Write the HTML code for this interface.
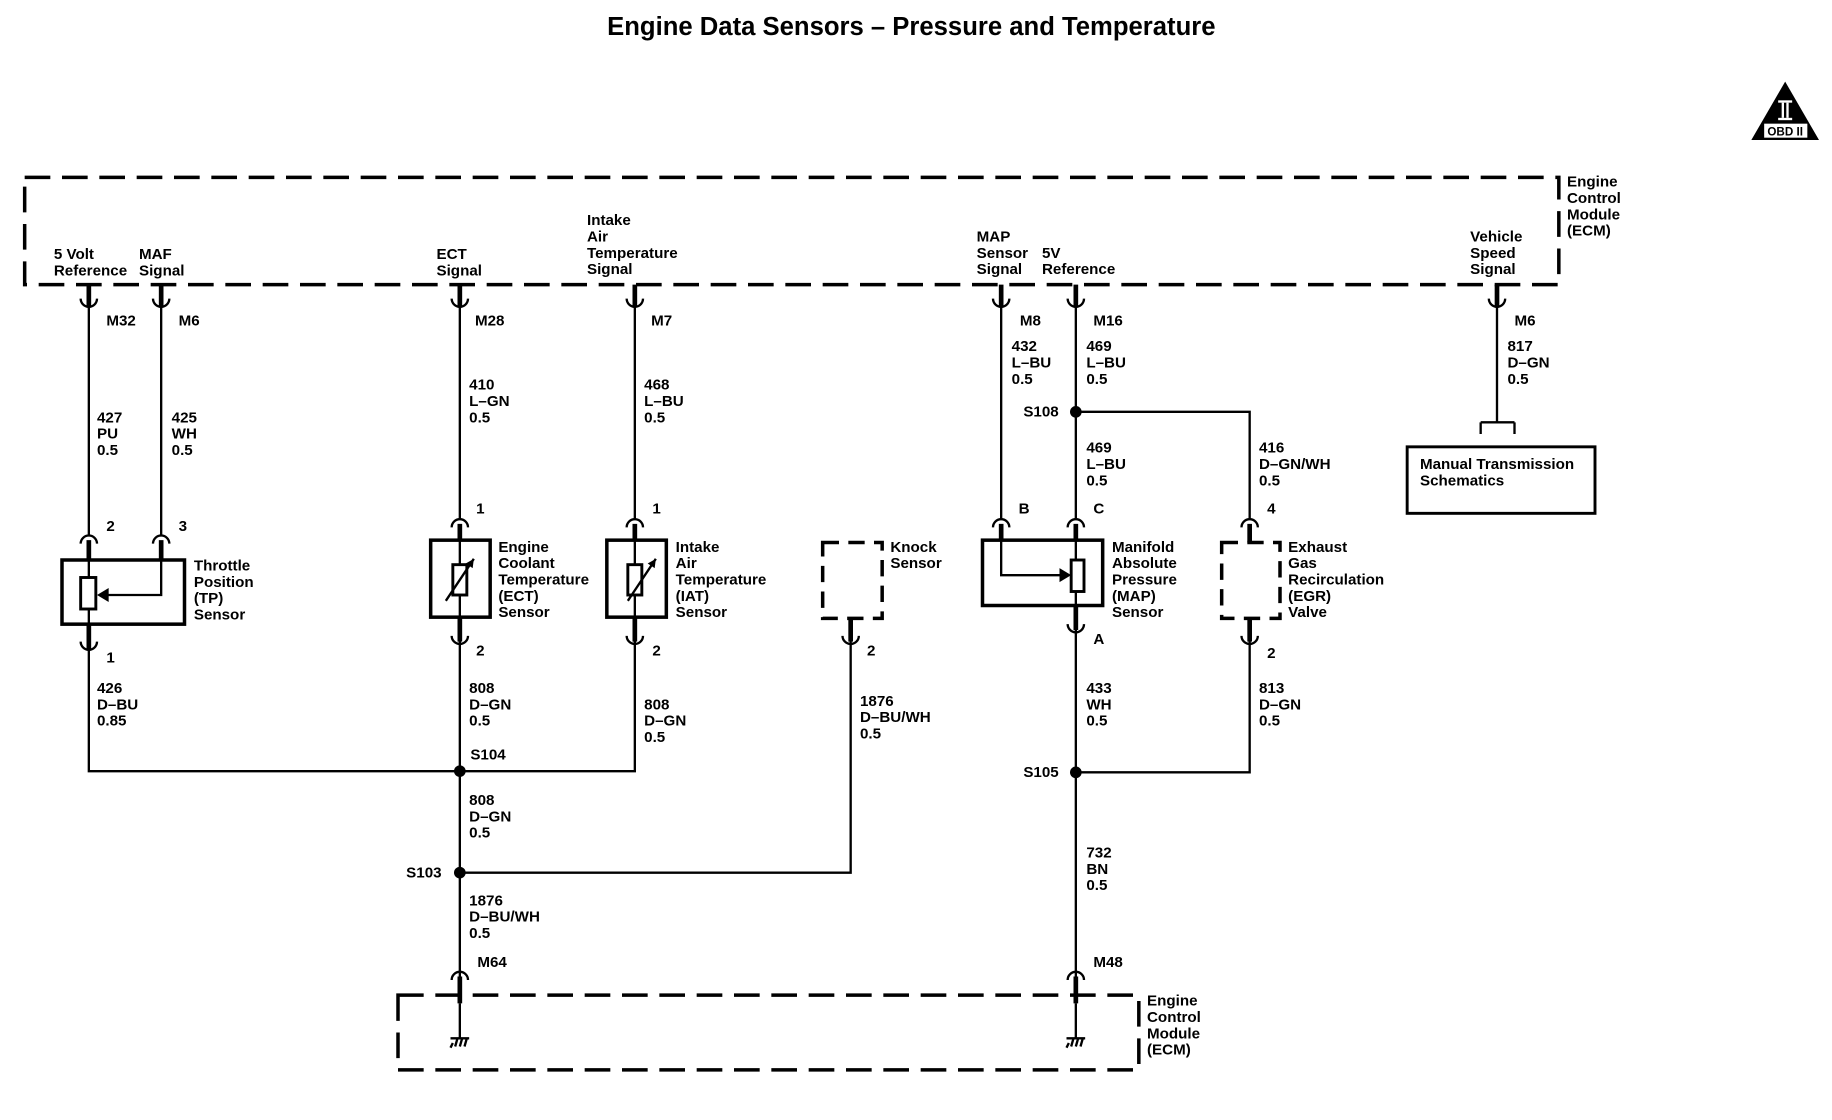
<!DOCTYPE html>
<html><head><meta charset="utf-8"><style>
html,body{margin:0;padding:0;background:#fff;}
svg{display:block;}
text{font-family:"Liberation Sans",Arial,sans-serif;font-weight:bold;font-size:13px;fill:#000;}
</style></head><body>
<svg width="1832" height="1120" viewBox="0 0 1568 960" xmlns="http://www.w3.org/2000/svg">
<g stroke="#000" fill="none">
<!-- ECM top -->
<rect x="20" y="152" width="1315" height="92" stroke-width="3" stroke-dasharray="22 10"/>
<!-- ECM bottom -->
<rect x="340" y="853" width="635" height="64" stroke-width="3" stroke-dasharray="22 10"/>
<!-- knock, EGR dashed -->
<rect x="704" y="465" width="51" height="65" stroke-width="3" stroke-dasharray="14 8"/>
<rect x="1046" y="465" width="50" height="65" stroke-width="3" stroke-dasharray="14 8"/>
<!-- sensor boxes -->
<rect x="52" y="480" width="105" height="55" stroke-width="3"/>
<rect x="368" y="463" width="51" height="66" stroke-width="3"/>
<rect x="519" y="463" width="51" height="66" stroke-width="3"/>
<rect x="841" y="463" width="103" height="56" stroke-width="3"/>
<rect x="1205" y="383" width="161" height="57" stroke-width="2.5"/>

<!-- top connectors (∪) at ECM -->
<g stroke-width="2">
<path d="M68 256 A7 7 0 0 0 82 256"/><path d="M130 256 A7 7 0 0 0 144 256"/>
<path d="M386 256 A7 7 0 0 0 400 256"/><path d="M536 256 A7 7 0 0 0 550 256"/>
<path d="M850 256 A7 7 0 0 0 864 256"/><path d="M914 256 A7 7 0 0 0 928 256"/>
<path d="M1275 256 A7 7 0 0 0 1289 256"/>
<!-- sensor bottom ∪ -->
<path d="M68 550 A7 7 0 0 0 82 550"/><path d="M386 545 A7 7 0 0 0 400 545"/>
<path d="M536 545 A7 7 0 0 0 550 545"/><path d="M721 545 A7 7 0 0 0 735 545"/>
<path d="M914 535 A7 7 0 0 0 928 535"/><path d="M1063 545 A7 7 0 0 0 1077 545"/>
<!-- ∩ tops -->
<path d="M68 466 A7 7 0 0 1 82 466"/><path d="M130 466 A7 7 0 0 1 144 466"/>
<path d="M386 452 A7 7 0 0 1 400 452"/><path d="M536 452 A7 7 0 0 1 550 452"/>
<path d="M850 452 A7 7 0 0 1 864 452"/><path d="M914 452 A7 7 0 0 1 928 452"/>
<path d="M1063 452 A7 7 0 0 1 1077 452"/>
<path d="M386 840 A7 7 0 0 1 400 840"/><path d="M914 840 A7 7 0 0 1 928 840"/>
</g>
<!-- thick stubs -->
<g stroke-width="4">
<path d="M75 244V262M137 244V262M393 244V262M543 244V262M857 244V262M921 244V262M1282 244V262"/>
<path d="M75 463V480M137 463V480M393 449V463M543 449V463M857 449V463M921 449V463M1070 449V465"/>
<path d="M75 535V556M393 529V550M543 529V550M728 530V550M921 519V540M1070 530V550"/>
<path d="M393 837V860M921 837V860"/>
</g>
<!-- wires -->
<g stroke-width="2">
<path d="M75 262V459M137 262V459M393 262V445M543 262V445M857 262V445M921 262V445"/>
<path d="M921 353H1070V445M1282 262V362M1268 362H1297M1268 362V372M1297 362V372"/>
<path d="M75 553V661H543V548M393 548V837M728 548V748H393"/>
<path d="M921 538V837M921 662H1070V548"/>
<path d="M393 860V890M921 860V890"/>
<!-- internals -->
<path d="M75 480V535M137 480V510H90"/>
<path d="M857 463V493H910"/>
<path d="M921 463V519"/>
<path d="M393 463V529M543 463V529"/>
</g>
<g stroke-width="2.5">
<rect x="68" y="495" width="13" height="27" fill="#fff"/>
<rect x="917" y="480" width="11" height="27" fill="#fff"/>
<rect x="387" y="484" width="12" height="26" fill="#fff"/>
<rect x="537" y="484" width="12" height="26" fill="#fff"/>
</g>
<g stroke-width="2">
<path d="M381 515L405 479M537 515L561 479"/>
</g>
<!-- ground -->
<g stroke-width="2"><path d="M385 890H401M387 894L385 898M391 890L389 897M395 890L393 897M399 890L397 897"/>
<path d="M913 890H929M915 894L913 898M919 890L917 897M923 890L921 897M927 890L925 897"/></g>
</g>
<g fill="#000">
<polygon points="82,510 92,504 92,516"/>
<polygon points="917,493 907,487 907,499"/>
<polygon points="405,479 398,483 404,487"/><polygon points="561,479 554,483 560,487"/>
<circle cx="393" cy="661" r="5"/><circle cx="393" cy="748" r="5"/>
<circle cx="921" cy="353" r="5"/><circle cx="921" cy="662" r="5"/>
<polygon points="1529,70 1500,120 1558,120"/>
</g>
<rect x="1511" y="106" width="37" height="12" fill="#fff"/>
<text x="1529" y="116" text-anchor="middle" style="font-size:10px">OBD II</text>
<rect x="1523" y="86" width="12" height="2" fill="#fff"/><rect x="1523" y="101" width="12" height="2" fill="#fff"/>
<rect x="1526" y="88" width="2" height="13" fill="#fff"/><rect x="1530" y="88" width="2" height="13" fill="#fff"/>

<text x="780" y="30" text-anchor="middle" style="font-size:22px">Engine Data Sensors – Pressure and Temperature</text>

<g>
<text x="1342" y="160">Engine</text><text x="1342" y="174">Control</text><text x="1342" y="188">Module</text><text x="1342" y="202">(ECM)</text>
<text x="982" y="862">Engine</text><text x="982" y="876">Control</text><text x="982" y="890">Module</text><text x="982" y="904">(ECM)</text>
<text x="45" y="222">5 Volt</text><text x="45" y="236">Reference</text>
<text x="118" y="222">MAF</text><text x="118" y="236">Signal</text>
<text x="373" y="222">ECT</text><text x="373" y="236">Signal</text>
<text x="502" y="193">Intake</text><text x="502" y="207">Air</text><text x="502" y="221">Temperature</text><text x="502" y="235">Signal</text>
<text x="836" y="207">MAP</text><text x="836" y="221">Sensor</text><text x="836" y="235">Signal</text>
<text x="892" y="221">5V</text><text x="892" y="235">Reference</text>
<text x="1259" y="207">Vehicle</text><text x="1259" y="221">Speed</text><text x="1259" y="235">Signal</text>

<text x="90" y="279">M32</text><text x="152" y="279">M6</text><text x="406" y="279">M28</text><text x="557" y="279">M7</text>
<text x="873" y="279">M8</text><text x="936" y="279">M16</text><text x="1297" y="279">M6</text>

<text x="82" y="362">427</text><text x="82" y="376">PU</text><text x="82" y="390">0.5</text>
<text x="146" y="362">425</text><text x="146" y="376">WH</text><text x="146" y="390">0.5</text>
<text x="401" y="334">410</text><text x="401" y="348">L–GN</text><text x="401" y="362">0.5</text>
<text x="551" y="334">468</text><text x="551" y="348">L–BU</text><text x="551" y="362">0.5</text>
<text x="866" y="301">432</text><text x="866" y="315">L–BU</text><text x="866" y="329">0.5</text>
<text x="930" y="301">469</text><text x="930" y="315">L–BU</text><text x="930" y="329">0.5</text>
<text x="1291" y="301">817</text><text x="1291" y="315">D–GN</text><text x="1291" y="329">0.5</text>
<text x="876" y="357">S108</text>
<text x="930" y="388">469</text><text x="930" y="402">L–BU</text><text x="930" y="416">0.5</text>
<text x="1078" y="388">416</text><text x="1078" y="402">D–GN/WH</text><text x="1078" y="416">0.5</text>
<text x="1216" y="402">Manual Transmission</text><text x="1216" y="416">Schematics</text>

<text x="90" y="455">2</text><text x="152" y="455">3</text><text x="407" y="440">1</text><text x="558" y="440">1</text>
<text x="872" y="440">B</text><text x="936" y="440">C</text><text x="1085" y="440">4</text>
<text x="165" y="489">Throttle</text><text x="165" y="503">Position</text><text x="165" y="517">(TP)</text><text x="165" y="531">Sensor</text>
<text x="426" y="473">Engine</text><text x="426" y="487">Coolant</text><text x="426" y="501">Temperature</text><text x="426" y="515">(ECT)</text><text x="426" y="529">Sensor</text>
<text x="578" y="473">Intake</text><text x="578" y="487">Air</text><text x="578" y="501">Temperature</text><text x="578" y="515">(IAT)</text><text x="578" y="529">Sensor</text>
<text x="762" y="473">Knock</text><text x="762" y="487">Sensor</text>
<text x="952" y="473">Manifold</text><text x="952" y="487">Absolute</text><text x="952" y="501">Pressure</text><text x="952" y="515">(MAP)</text><text x="952" y="529">Sensor</text>
<text x="1103" y="473">Exhaust</text><text x="1103" y="487">Gas</text><text x="1103" y="501">Recirculation</text><text x="1103" y="515">(EGR)</text><text x="1103" y="529">Valve</text>

<text x="90" y="568">1</text><text x="407" y="562">2</text><text x="558" y="562">2</text><text x="742" y="562">2</text>
<text x="936" y="552">A</text><text x="1085" y="564">2</text>

<text x="82" y="594">426</text><text x="82" y="608">D–BU</text><text x="82" y="622">0.85</text>
<text x="401" y="594">808</text><text x="401" y="608">D–GN</text><text x="401" y="622">0.5</text>
<text x="551" y="608">808</text><text x="551" y="622">D–GN</text><text x="551" y="636">0.5</text>
<text x="736" y="605">1876</text><text x="736" y="619">D–BU/WH</text><text x="736" y="633">0.5</text>
<text x="930" y="594">433</text><text x="930" y="608">WH</text><text x="930" y="622">0.5</text>
<text x="1078" y="594">813</text><text x="1078" y="608">D–GN</text><text x="1078" y="622">0.5</text>
<text x="402" y="651">S104</text><text x="876" y="666">S105</text>
<text x="401" y="690">808</text><text x="401" y="704">D–GN</text><text x="401" y="718">0.5</text>
<text x="347" y="752">S103</text>
<text x="930" y="735">732</text><text x="930" y="749">BN</text><text x="930" y="763">0.5</text>
<text x="401" y="776">1876</text><text x="401" y="790">D–BU/WH</text><text x="401" y="804">0.5</text>
<text x="408" y="829">M64</text><text x="936" y="829">M48</text>
</g>
</svg>
</body></html>
